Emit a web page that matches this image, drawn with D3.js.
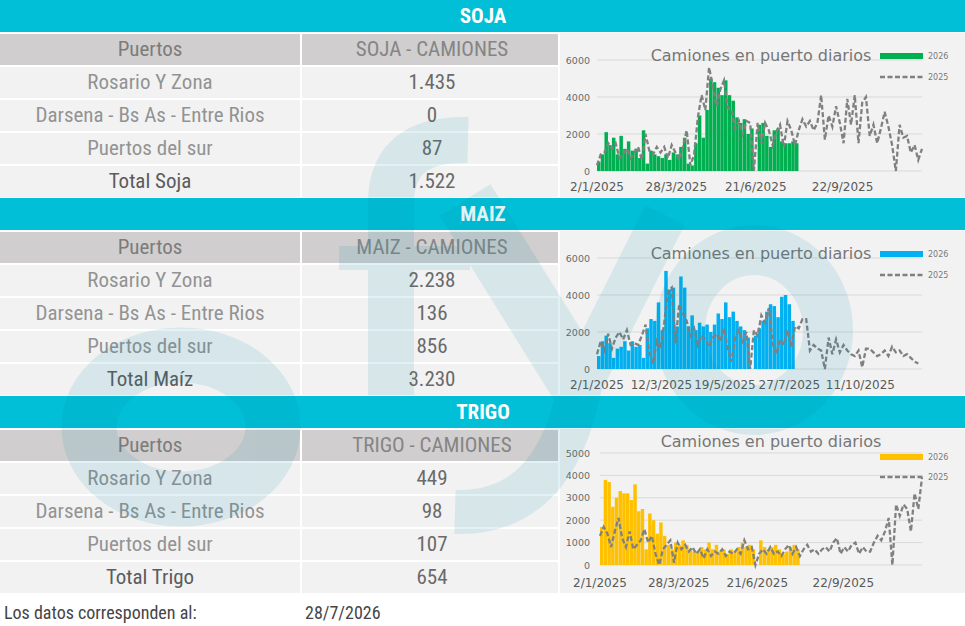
<!DOCTYPE html>
<html>
<head>
<meta charset="utf-8">
<script src="https://cdn.jsdelivr.net/npm/d3@7"></script>
<style>
  body { margin: 0; background: #fff; }
  svg { display: block; }
</style>
</head>
<body>
<svg id="chart" width="965" height="626"></svg>
<script>
// Table data
let grains = ["SOJA", "MAIZ", "TRIGO"];
let portNames = ["Rosario Y Zona", "Darsena - Bs As - Entre Rios", "Puertos del sur"];
let totalLabels = ["Total Soja", "Total Maíz", "Total Trigo"];
let sojaPorts = [1435, 0, 87];
let maizPorts = [2238, 136, 856];
let trigoPorts = [449, 98, 107];
let dataDate = "28/7/2026";

// Daily trucks, sampled every 4 days from 2/1
let seriesStart = "2/1/2025";
let stepDays = 4;
let soja2026 = [500, 900, 2100, 1400, 1800, 900, 1900, 1200, 1600, 1100,
  1200, 700, 2200, 400, 1100, 900, 800, 700, 900, 600,
  1000, 900, 1300, 1800, 400, 300, 1500, 3000, 1800, 3300,
  5000, 4800, 4500, 4100, 4900, 4100, 3800, 2900, 2600, 2800,
  2000, 2300, 0, 2500, 2600, 1900, 1300, 2200, 2300, 1600,
  1500, 1500, 1600, 1500];
let soja2025 = [300, 900, 1000, 1500, 1200, 1500, 700, 900, 1200, 700,
  1000, 1300, 600, 2000, 1100, 900, 1300, 1000, 1300, 700,
  1400, 1000, 600, 1300, 2200, 300, 900, 2900, 4100, 3300,
  5600, 4600, 3500, 4400, 4900, 3400, 3300, 2300, 2700, 2000,
  2700, 2600, 0, 2600, 1500, 2600, 2200, 1400, 2100, 2500,
  1300, 2700, 2200, 1400, 2200, 2800, 2400, 2700, 2200, 2600,
  4100, 1700, 3000, 2400, 3500, 2600, 1500, 3900, 2500, 4100,
  1500, 3700, 4000, 1900, 2500, 1500, 2300, 3200, 2400, 1400,
  0, 2500, 1800, 1900, 1000, 1400, 600, 1200];
let maiz2026 = [700, 1500, 1800, 1400, 600, 1100, 1200, 1500, 1000, 1500,
  1200, 1300, 600, 2200, 2700, 2600, 3600, 2100, 5300, 4300,
  4400, 2300, 5000, 4400, 2300, 2900, 2100, 2500, 2300, 2400,
  2000, 2400, 3000, 2700, 3600, 2800, 3100, 2600, 2300, 2100,
  1700, 0, 1800, 2200, 2600, 3100, 3500, 3400, 2800, 3900,
  4000, 3500, 2600];
let maiz2025 = [800, 1500, 1000, 1900, 1100, 1700, 2000, 1600, 2100, 1300,
  1400, 1300, 1800, 2400, 900, 300, 1500, 1100, 2500, 4200,
  4400, 1400, 3500, 3000, 2600, 1800, 2200, 1300, 1800, 1600,
  1200, 1700, 1900, 1500, 2200, 1100, 400, 1700, 2100, 1500,
  2000, 0, 2100, 1800, 2900, 2500, 3300, 1400, 800, 1600,
  1300, 2100, 1200, 2300, 2200, 2700, 2700, 1000, 1300, 1100,
  1000, 0, 1700, 800, 1600, 900, 1300, 1000, 800, 700,
  1000, 100, 1100, 1100, 900, 700, 800, 1000, 700, 1200,
  900, 1000, 700, 800, 600, 400, 300];
let trigo2026 = [1700, 3800, 3700, 2600, 3000, 3300, 3200, 3200, 2900, 3600,
  2400, 2500, 700, 2300, 2000, 1400, 1900, 1300, 900, 700,
  1000, 900, 1100, 900, 700, 600, 600, 800, 700, 1000,
  700, 900, 600, 700, 500, 700, 600, 800, 1000, 800,
  900, 700, 0, 1100, 800, 700, 800, 900, 700, 500,
  600, 800, 900, 700];
let trigo2025 = [1300, 1700, 1400, 800, 1500, 2100, 1200, 800, 1500, 700,
  900, 1100, 1600, 1000, 1300, 500, 0, 700, 900, 1100,
  100, 1000, 700, 900, 600, 800, 500, 700, 300, 700,
  400, 600, 500, 700, 400, 600, 500, 700, 500, 1100,
  700, 800, 0, 500, 700, 500, 800, 500, 600, 400,
  700, 900, 500, 800, 400, 700, 900, 600, 700, 500,
  700, 800, 600, 1000, 1200, 500, 800, 600, 900, 1000,
  500, 800, 600, 600, 1000, 1300, 1100, 1500, 2100, 0,
  2700, 2200, 2700, 2500, 1500, 3200, 2500, 3900];

// Axis labels
let sojaTicks = ["2/1/2025", "28/3/2025", "21/6/2025", "22/9/2025"];
let maizTicks = ["2/1/2025", "12/3/2025", "19/5/2025", "27/7/2025", "11/10/2025"];
let trigoTicks = ["2/1/2025", "28/3/2025", "21/6/2025", "22/9/2025"];
let yTicks6000 = [0, 2000, 4000, 6000];
let yTicks5000 = [0, 1000, 2000, 3000, 4000, 5000];
let chartTitle = "Camiones en puerto diarios";
let legendLabels = ["2026", "2025"];

// Colors
let colors = {
  band: "#00bfd6",
  header: "#d0cece",
  cell: "#f2f2f2",
  label: "#939393",
  value: "#6a6a6a",
  total: "#5c5c5c",
  soja: "#00b050",
  maiz: "#00b0f0",
  trigo: "#ffc000",
  line2025: "#808080",
  grid: "#d9d9d9",
  axis: "#595959",
  mark: "rgb(0,140,170)"
};

let tableFont = "'Liberation Sans Narrow', 'Arial Narrow', 'Roboto Condensed', sans-serif";
let chartFont = "'DejaVu Sans', Verdana, sans-serif";

let svg = d3.select("#chart");
let es = d3.formatLocale({ decimal: ",", thousands: ".", grouping: [3], currency: ["$", ""] });
let fmt = es.format(",d");
let parseDate = d3.utcParse("%d/%m/%Y");
let start = parseDate(seriesStart);

let blocks = [
  { name: grains[0], total: totalLabels[0], ports: sojaPorts, s26: soja2026, s25: soja2025,
    color: colors.soja, xTicks: sojaTicks, yTicks: yTicks6000, yMax: 6000,
    x0: 597, yTop: 60, yBase: 171, titleX: 761, titleY: 61, leg26: 56, leg25: 77 },
  { name: grains[1], total: totalLabels[1], ports: maizPorts, s26: maiz2026, s25: maiz2025,
    color: colors.maiz, xTicks: maizTicks, yTicks: yTicks6000, yMax: 6000,
    x0: 597, yTop: 60, yBase: 171, titleX: 761, titleY: 61, leg26: 56, leg25: 77 },
  { name: grains[2], total: totalLabels[2], ports: trigoPorts, s26: trigo2026, s25: trigo2025,
    color: colors.trigo, xTicks: trigoTicks, yTicks: yTicks5000, yMax: 5000,
    x0: 600, yTop: 57, yBase: 169, titleX: 771, titleY: 51, leg26: 61, leg25: 81 }
];

blocks.forEach(function (bk, i) {
  let b = 198 * i;
  let g = svg.append("g").attr("class", "block " + bk.name.toLowerCase());

  // Cyan band with the grain name
  g.append("rect")
    .attr("x", 0).attr("y", b)
    .attr("width", 965).attr("height", 32)
    .attr("fill", colors.band);
  g.append("text")
    .attr("x", 483).attr("y", b + 23)
    .attr("text-anchor", "middle")
    .style("font-family", tableFont)
    .style("font-weight", "bold")
    .style("font-size", "21px")
    .style("fill", "#fff")
    .text(bk.name);

  // Table
  let rows = [["Puertos", bk.name + " - CAMIONES"]];
  portNames.forEach((p, k) => rows.push([p, fmt(bk.ports[k])]));
  rows.push([bk.total, fmt(d3.sum(bk.ports))]);

  rows.forEach(function (r, k) {
    let ry = b + 34 + 33 * k;
    let fill = k == 0 ? colors.header : colors.cell;
    g.append("rect").attr("x", 0).attr("y", ry).attr("width", 300).attr("height", 31).attr("fill", fill);
    g.append("rect").attr("x", 302).attr("y", ry).attr("width", 256).attr("height", 31).attr("fill", fill);

    let isTotal = k == rows.length - 1;
    let labelColor = k == 0 ? "#7c7c7c" : (isTotal ? colors.total : colors.label);
    let valueColor = k == 0 ? "#858585" : colors.value;

    g.append("text")
      .attr("x", 150).attr("y", ry + 22)
      .attr("text-anchor", "middle")
      .style("font-family", tableFont)
      .style("font-size", "21px")
      .style("fill", labelColor)
      .text(r[0]);
    g.append("text")
      .attr("x", 432).attr("y", ry + 22)
      .attr("text-anchor", "middle")
      .style("font-family", tableFont)
      .style("font-size", "21px")
      .style("fill", valueColor)
      .text(r[1]);
  });

  // Chart panel
  g.append("rect")
    .attr("x", 560).attr("y", b + 33)
    .attr("width", 405).attr("height", 164)
    .attr("fill", colors.cell);

  let x = d3.scaleUtc()
    .domain([start, d3.utcDay.offset(start, 348)])
    .range([bk.x0, 922]);
  let y = d3.scaleLinear()
    .domain([0, bk.yMax])
    .range([b + bk.yBase, b + bk.yTop]);
  let dateAt = k => d3.utcDay.offset(start, k * stepDays);

  // Gridlines and y labels
  bk.yTicks.forEach(function (t) {
    g.append("line")
      .attr("x1", bk.x0).attr("x2", 922)
      .attr("y1", y(t)).attr("y2", y(t))
      .attr("stroke", colors.grid).attr("stroke-width", 1);
    g.append("text")
      .attr("x", 590).attr("y", y(t) + 3.5)
      .attr("text-anchor", "end")
      .style("font-family", chartFont)
      .style("font-size", "9.5px")
      .style("fill", "#6a6a6a")
      .text(t);
  });

  // 2026 columns
  g.append("g")
    .selectAll("rect")
    .data(bk.s26)
    .enter()
    .append("rect")
    .attr("x", (d, k) => x(dateAt(k)))
    .attr("width", (d, k) => Math.max(0.5, x(dateAt(k + 1)) - x(dateAt(k)) - 0.25))
    .attr("y", d => y(d))
    .attr("height", d => y(0) - y(d))
    .attr("fill", bk.color);

  // 2025 dashed line
  let line = d3.line()
    .x((d, k) => x(dateAt(k)))
    .y(d => y(d));
  g.append("path")
    .datum(bk.s25)
    .attr("d", line)
    .attr("fill", "none")
    .attr("stroke", colors.line2025)
    .attr("stroke-width", 2.3)
    .attr("stroke-dasharray", "5,2.5");

  // X labels
  bk.xTicks.forEach(function (t) {
    g.append("text")
      .attr("x", x(parseDate(t))).attr("y", b + 191)
      .attr("text-anchor", "middle")
      .style("font-family", chartFont)
      .style("font-size", "12px")
      .style("fill", colors.axis)
      .text(t);
  });

  // Title
  g.append("text")
    .attr("x", bk.titleX).attr("y", b + bk.titleY)
    .attr("text-anchor", "middle")
    .style("font-family", chartFont)
    .style("font-size", "16px")
    .style("fill", "#767676")
    .text(chartTitle);

  // Legend
  g.append("rect")
    .attr("x", 880).attr("y", b + bk.leg26 - 3)
    .attr("width", 43).attr("height", 6)
    .attr("fill", bk.color);
  g.append("line")
    .attr("x1", 880).attr("x2", 923)
    .attr("y1", b + bk.leg25).attr("y2", b + bk.leg25)
    .attr("stroke", colors.line2025)
    .attr("stroke-width", 2.3)
    .attr("stroke-dasharray", "5,2.5");
  [bk.leg26, bk.leg25].forEach(function (ly, k) {
    g.append("text")
      .attr("x", 928).attr("y", b + ly + 3)
      .style("font-family", chartFont)
      .style("font-size", "8px")
      .style("fill", "#7a7a7a")
      .text(legendLabels[k]);
  });
});

// Footer
svg.append("text")
  .attr("x", 4).attr("y", 619)
  .style("font-family", tableFont)
  .style("font-size", "18px")
  .style("fill", "#454545")
  .text("Los datos corresponden al:");
svg.append("text")
  .attr("x", 305).attr("y", 619)
  .style("font-family", tableFont)
  .style("font-size", "18px")
  .style("fill", "#454545")
  .text(dataDate);

// Watermark logo
let mark = svg.append("g")
  .attr("class", "watermark")
  .attr("opacity", 0.11)
  .attr("fill", "none")
  .attr("stroke", colors.mark);
mark.append("ellipse").attr("cx", 181).attr("cy", 427).attr("rx", 92).attr("ry", 72).attr("stroke-width", 55);
mark.append("path").attr("d", "M391,395 L391,200 Q393,138 468,140").attr("stroke-width", 46);
mark.append("path").attr("d", "M339,258 L470,258").attr("stroke-width", 24);
mark.append("path").attr("d", "M465,200 L580,385").attr("stroke-width", 60);
mark.append("path").attr("d", "M665,215 L580,385 Q555,515 455,512").attr("stroke-width", 44);
mark.append("ellipse").attr("cx", 754).attr("cy", 330).attr("rx", 74).attr("ry", 80).attr("stroke-width", 50);
</script>
</body>
</html>
